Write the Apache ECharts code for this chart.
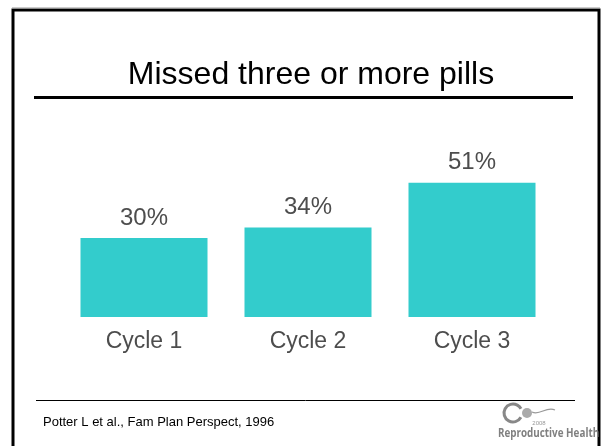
<!DOCTYPE html>
<html>
<head>
<meta charset="utf-8">
<script src="https://cdn.jsdelivr.net/npm/echarts@6/dist/echarts.min.js"></script>
<style>
  html, body { margin: 0; padding: 0; background: #fff; }
  #chart { width: 602px; height: 446px; }
</style>
</head>
<body>
<div id="chart"></div>
<script>
// data
var cycles = ['Cycle 1', 'Cycle 2', 'Cycle 3'];
var missedPct = [30, 34, 51];

var font = '"Liberation Sans", Arial, sans-serif';
var myChart = echarts.init(document.getElementById('chart'));

var option = {
  backgroundColor: '#fff',
  animation: false,
  grid: { left: 62, right: 48, top: 54, bottom: 129 },
  xAxis: {
    type: 'category',
    data: cycles,
    axisLine: { show: false },
    axisTick: { show: false },
    axisLabel: { color: '#4d4d4d', fontSize: 23, fontFamily: font, margin: 13 }
  },
  yAxis: {
    type: 'value',
    min: 0,
    max: 100,
    show: false
  },
  series: [{
    type: 'bar',
    data: missedPct,
    barWidth: 127,
    itemStyle: { color: '#33cccc' },
    label: {
      show: true,
      position: 'top',
      distance: 8,
      formatter: '{c}%',
      color: '#4d4d4d',
      fontSize: 24,
      fontFamily: font
    }
  }],
  graphic: [
    // slide frame
    { type: 'rect', shape: { x: 13, y: 10, width: 586, height: 450 },
      style: { fill: 'none', stroke: '#000', lineWidth: 3 } },
    { type: 'line', shape: { x1: 12, y1: 8, x2: 600, y2: 8 },
      style: { stroke: '#999', lineWidth: 1 } },
    // title
    { type: 'text', x: 311, y: 75,
      style: { text: 'Missed three or more pills', fill: '#000', fontSize: 32,
        fontFamily: font, textAlign: 'center', textVerticalAlign: 'middle' } },
    { type: 'line', shape: { x1: 34, y1: 97.5, x2: 573, y2: 97.5 },
      style: { stroke: '#000', lineWidth: 3 } },
    // footer
    { type: 'line', shape: { x1: 36, y1: 400.5, x2: 575, y2: 400.5 },
      style: { stroke: '#000', lineWidth: 1 } },
    { type: 'text', x: 43, y: 422,
      style: { text: 'Potter L et al., Fam Plan Perspect, 1996', fill: '#000', fontSize: 13,
        fontFamily: font, textVerticalAlign: 'middle' } },
    // logo
    { type: 'arc', shape: { cx: 513, cy: 413, r: 9, startAngle: 0.5, endAngle: 5.8 },
      style: { stroke: '#888', lineWidth: 3, fill: 'none' } },
    { type: 'circle', shape: { cx: 527, cy: 413, r: 5 }, style: { fill: '#aaa' } },
    { type: 'bezierCurve', shape: { x1: 532, y1: 412, x2: 555, y2: 410, cpx1: 540, cpy1: 416, cpx2: 546, cpy2: 406 },
      style: { stroke: '#999', lineWidth: 1.2, fill: 'none' } },
    { type: 'text', x: 539, y: 423,
      style: { text: '2008', fill: '#999', fontSize: 6, fontFamily: font,
        textAlign: 'center', textVerticalAlign: 'middle' } },
    { type: 'text', x: 498, y: 434, scaleX: 0.82,
      style: { text: 'Reproductive Health', fill: '#808080', fontSize: 12, fontWeight: 'bold',
        fontFamily: '"Open Sans", sans-serif', textVerticalAlign: 'middle' } }
  ]
};

myChart.setOption(option);
</script>
</body>
</html>
